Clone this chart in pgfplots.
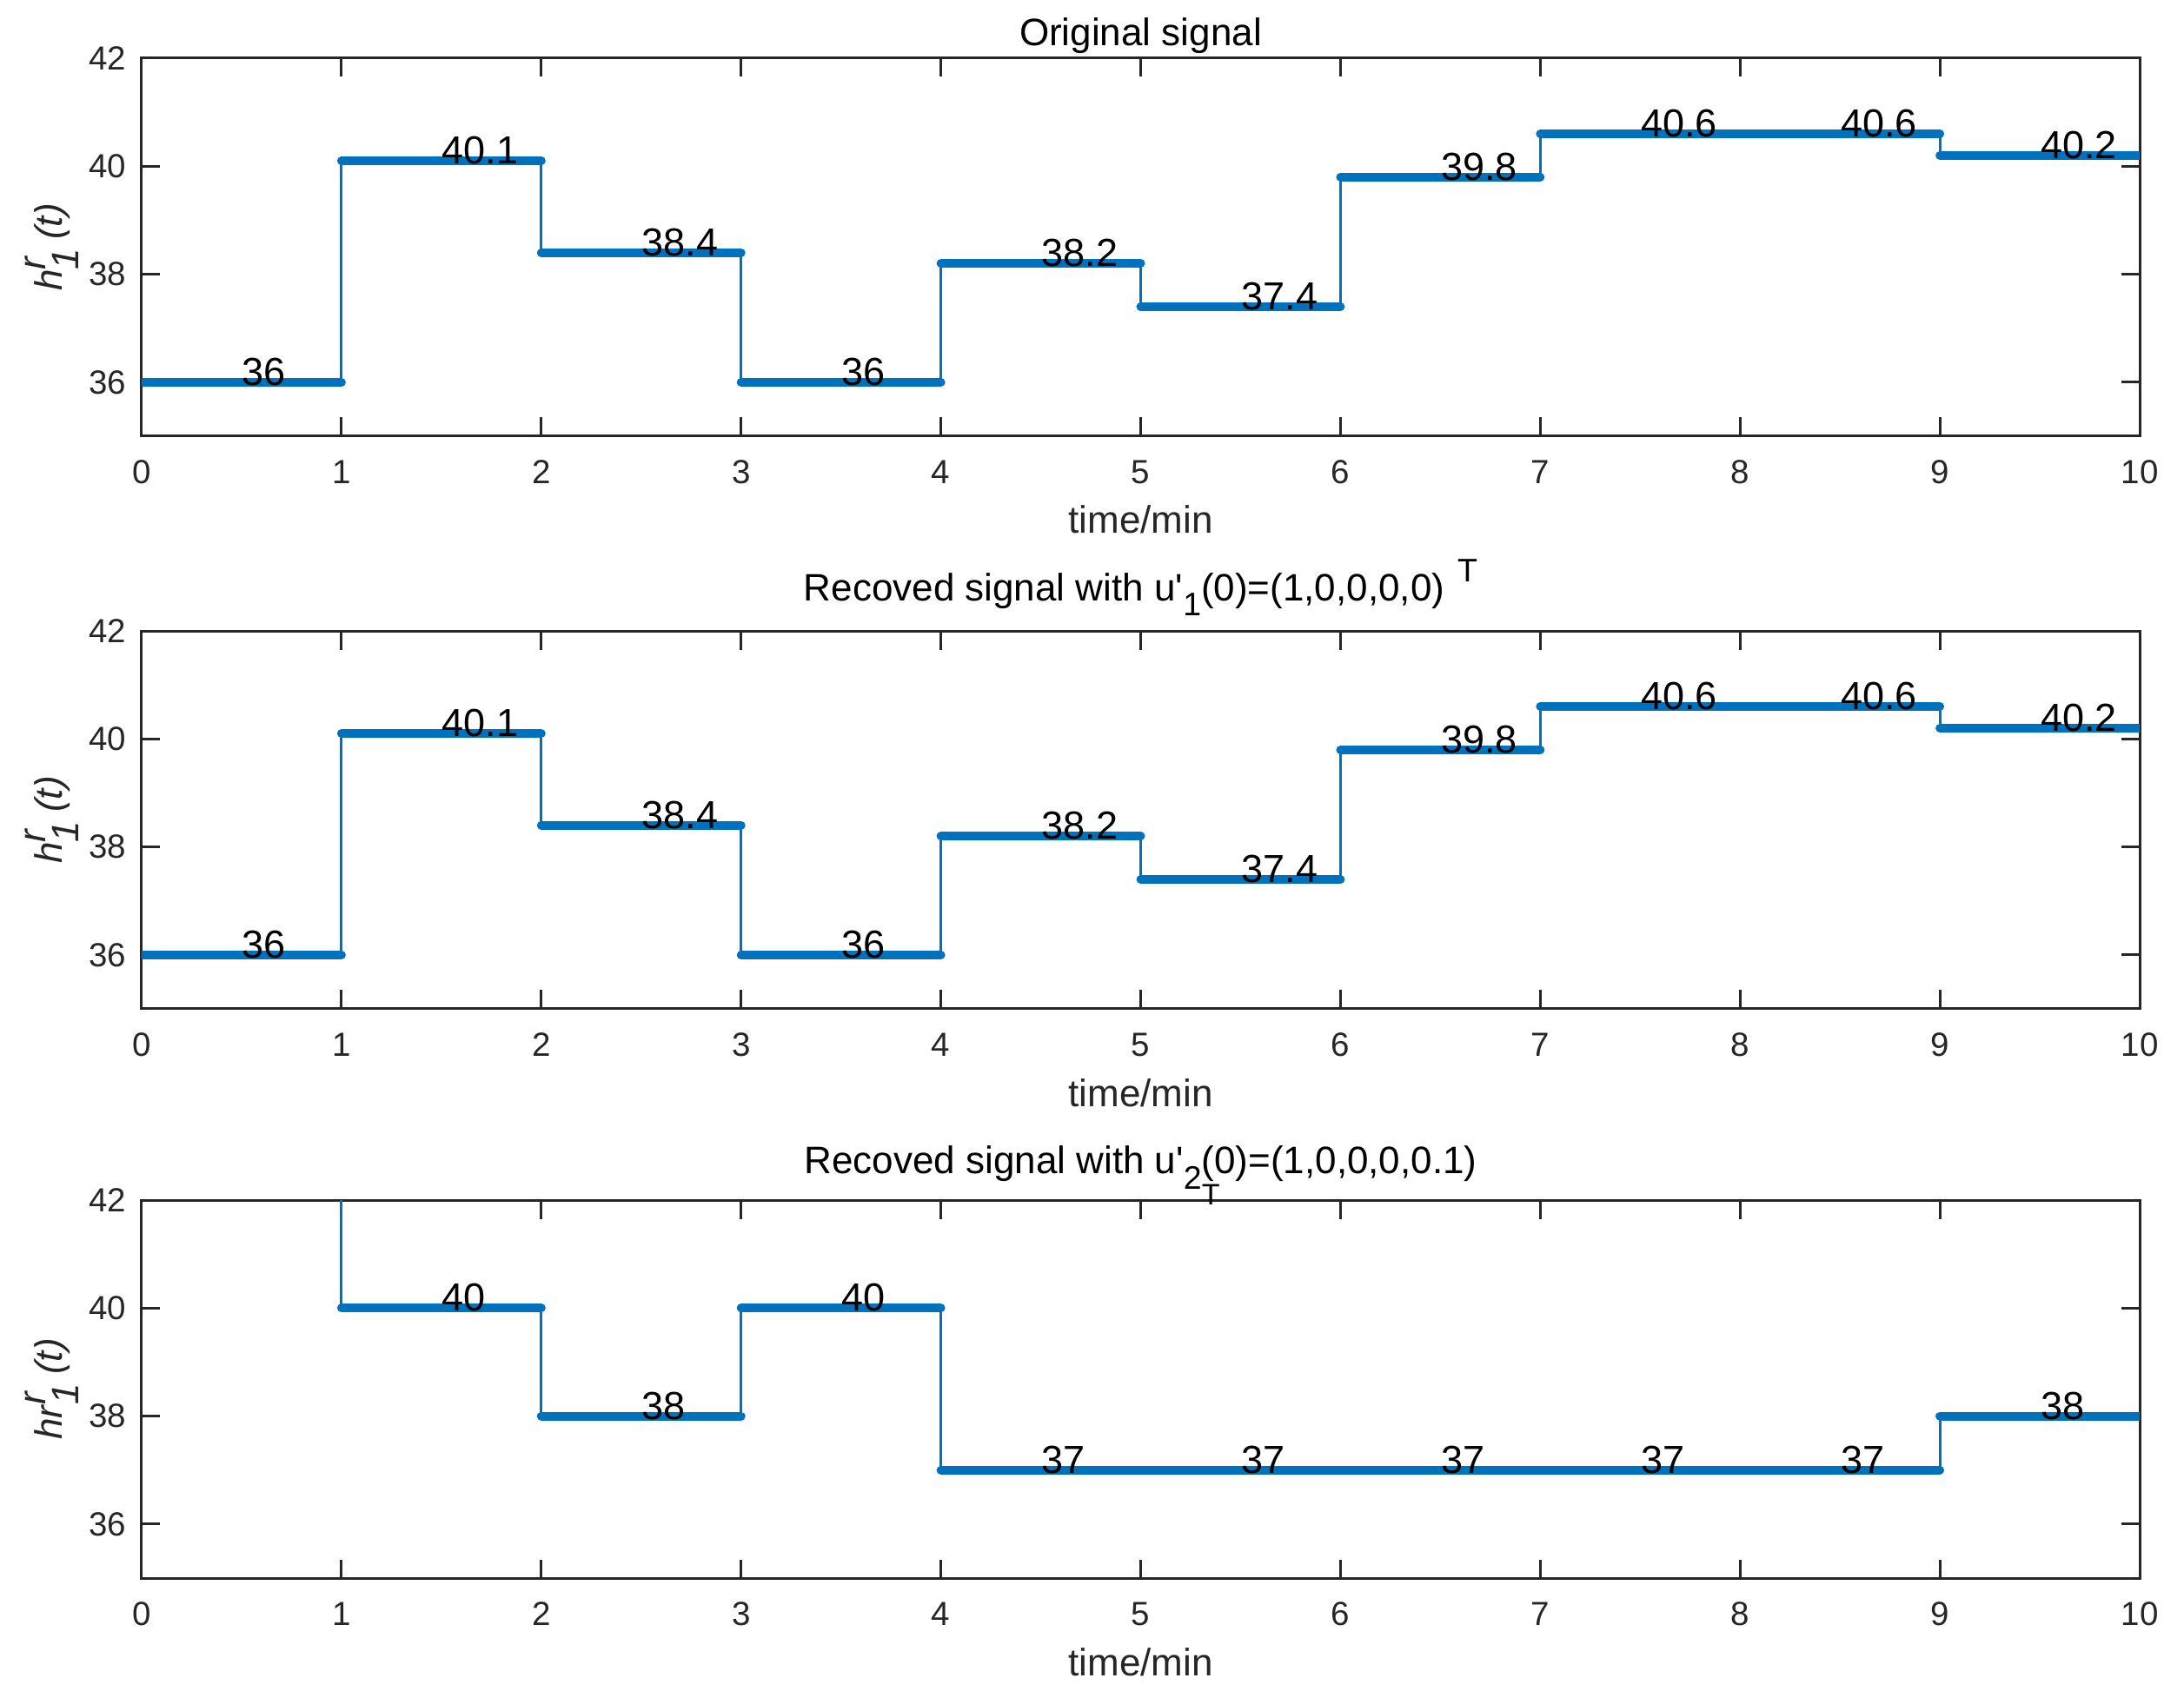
\documentclass[border=0pt]{standalone}
\usepackage{fontspec}
\setmainfont{Liberation Sans}
\usepackage{pgfplots}
\pgfplotsset{compat=1.18}
\usepackage{pgfplotstable}

\definecolor{mblue}{RGB}{0,114,189}
\definecolor{axgray}{RGB}{38,38,38}

% one value per minute; the last row repeats the value to close the last step
\pgfplotstableread{
x y
0 36
1 40.1
2 38.4
3 36
4 38.2
5 37.4
6 39.8
7 40.6
8 40.6
9 40.2
10 40.2
}\orig

% recovered with u'_1(0): same as the original
\pgfplotstableread{
x y
0 36
1 40.1
2 38.4
3 36
4 38.2
5 37.4
6 39.8
7 40.6
8 40.6
9 40.2
10 40.2
}\recone

% recovered with u'_2(0): first minute is off the chart (above 42)
\pgfplotstableread{
x y
0 45
1 40
2 38
3 40
4 37
5 37
6 37
7 37
8 37
9 38
10 38
}\rectwo

\pgfplotsset{
  sig/.style={
    scale only axis, width=459.8pt, height=87pt,
    anchor=south west,
    xmin=0, xmax=10, ymin=35, ymax=42,
    xtick={0,...,10}, ytick={36,38,40,42},
    tick align=inside, major tick length=4.3pt,
    axis line style={axgray, line width=0.6pt},
    every tick/.style={axgray, line width=0.6pt},
    tick label style={font=\fontsize{7.7}{9}\selectfont, text=axgray},
    xticklabel style={yshift=-2pt},
    /pgf/number format/assume math mode=true,
    xlabel={time/min},
    xlabel style={at={(axis description cs:0.5,0)}, anchor=base, yshift=-22.4pt,
      font=\fontsize{8.8}{10}\selectfont, text=axgray},
    ylabel style={at={(axis description cs:-0.0448,0.5)}, anchor=center, rotate=0,
      font=\fontsize{8.8}{10}\selectfont, text=axgray},
    title style={at={(axis description cs:0.5,1)}, anchor=base,
      font=\fontsize{8.8}{10}\selectfont, text=black},
  },
  thin/.style={mblue, line width=0.6pt, const plot mark left},
  thick/.style={mblue, line width=2pt, line cap=round, jump mark left},
  vals/.style={draw=none, mark=none, nodes near coords, point meta=explicit symbolic,
    every node near coord/.style={anchor=base west, inner sep=0pt, yshift=-0.7pt,
      font=\fontsize{9}{10}\selectfont, text=black}},
}

\begin{document}
\begin{tikzpicture}
\path[use as bounding box] (-32.6pt,-27.4pt) rectangle (470pt,363.2pt);

\begin{axis}[sig, at={(0,262.8pt)},
  title={Original signal}, title style={yshift=-3.2pt},
  ylabel={\textit{h}$^{\textit{r}}_{\textit{1}}$\,\textit{(t)}}]
\addplot[thin] table[x=x, y=y] {\orig};
\addplot[thick] table[x=x, y=y] {\orig};
\addplot[vals] table[x expr=\thisrow{x}+0.5, y=y, meta=y, skip coords between index={10}{11}] {\orig};
\end{axis}

\begin{axis}[sig, at={(0,131pt)},
  title={Recoved signal with u\textquotesingle\raisebox{-3.4pt}{\fontsize{7.5}{8}\selectfont 1}(0)=(1,0,0,0,0)\hspace{3pt}\raisebox{4.4pt}{\fontsize{7.5}{8}\selectfont T}},
  title style={yshift=0.8pt},
  ylabel={\textit{h}$^{\textit{r}}_{\textit{1}}$\,\textit{(t)}}]
\addplot[thin] table[x=x, y=y] {\recone};
\addplot[thick] table[x=x, y=y] {\recone};
\addplot[vals] table[x expr=\thisrow{x}+0.5, y=y, meta=y, skip coords between index={10}{11}] {\recone};
\end{axis}

\begin{axis}[sig, at={(0,0)},
  title={Recoved signal with u\textquotesingle\raisebox{-3.6pt}{\fontsize{7.5}{8}\selectfont 2}\rlap{\raisebox{-7.2pt}{\fontsize{6.8}{7}\selectfont T}}(0)=(1,0,0,0,0.1)},
  title style={yshift=0.2pt},
  ylabel={\textit{hr}$^{\textit{r}}_{\textit{1}}$\,\textit{(t)}}]
\addplot[thin] table[x=x, y=y] {\rectwo};
\addplot[thick] table[x=x, y=y] {\rectwo};
\addplot[vals] table[x expr=\thisrow{x}+0.5, y=y, meta=y, skip coords between index={0}{1}, skip coords between index={10}{11}] {\rectwo};
\end{axis}
\end{tikzpicture}
\end{document}
